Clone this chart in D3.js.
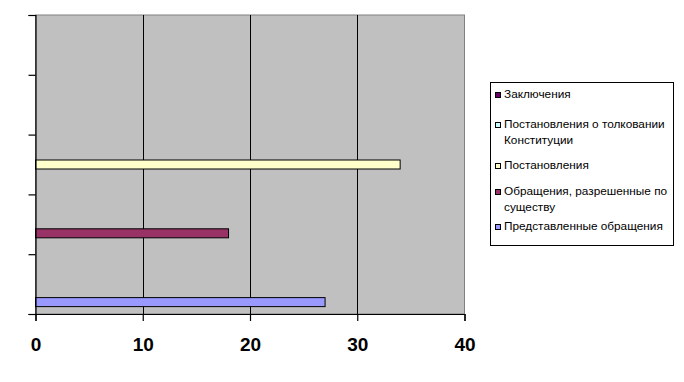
<!DOCTYPE html>
<html>
<head>
<meta charset="utf-8">
<script src="https://cdn.jsdelivr.net/npm/d3@7"></script>
<style>
  html, body { margin: 0; padding: 0; background: #fff; }
  svg { display: block; font-family: "Liberation Sans", Arial, sans-serif; }
</style>
</head>
<body>
<svg id="chart" width="684" height="382"></svg>
<script>
// Bar chart: one series per category, Excel-style clustered bars.

const categories = ["1", "2", "3", "4", "5"];
const seriesNames = [
  "Представленные обращения",
  "Обращения, разрешенные по существу",
  "Постановления",
  "Постановления о толковании Конституции",
  "Заключения"
];
// value of each series, sitting in the category with the same index
const seriesValues = [27, 18, 34, 0, 0];
const seriesColors = ["#9999ff", "#993366", "#ffffcc", "#ccffff", "#660066"];
const xTicks = [0, 10, 20, 30, 40];

// legend text, top to bottom, wrapped as in the original
const legendLines = [
  ["Заключения"],
  ["Постановления о толковании", "Конституции"],
  ["Постановления"],
  ["Обращения, разрешенные по", "существу"],
  ["Представленные обращения"]
];

const plot = { left: 35.5, right: 464.5, top: 15, bottom: 314 };

const svg = d3.select("#chart");

const x = d3.scaleLinear().domain([0, 40]).range([plot.left, plot.right]);
const y = d3.scaleBand().domain(categories).range([plot.bottom, plot.top]).padding(0);
const inner = d3.scaleBand().domain(d3.range(seriesNames.length))
  .range([y.bandwidth(), 0]).paddingInner(0).paddingOuter(0.82);

// plot background
svg.append("rect")
  .attr("x", plot.left).attr("y", plot.top)
  .attr("width", plot.right - plot.left).attr("height", plot.bottom - plot.top)
  .attr("fill", "#c0c0c0").attr("stroke", "#808080").attr("stroke-width", 1);

// vertical gridlines
svg.append("g")
  .selectAll("line")
  .data(xTicks.filter(d => d > 0 && d < 40))
  .enter().append("line")
  .attr("x1", d => Math.round(x(d)) + 0.5).attr("x2", d => Math.round(x(d)) + 0.5)
  .attr("y1", plot.top).attr("y2", plot.bottom)
  .attr("stroke", "#000").attr("stroke-width", 1);

// bars
svg.append("g")
  .selectAll("rect")
  .data(seriesValues.map((v, i) => ({ v, i })).filter(d => d.v > 0))
  .enter().append("rect")
  .attr("x", x(0))
  .attr("y", d => y(categories[d.i]) + inner(d.i))
  .attr("width", d => x(d.v) - x(0))
  .attr("height", inner.bandwidth())
  .attr("fill", d => seriesColors[d.i])
  .attr("stroke", "#000").attr("stroke-width", 1);

// y axis (no labels, ticks at category boundaries)
const yEdges = d3.scaleLinear().domain([0, categories.length]).range([plot.bottom, plot.top]);
svg.append("g")
  .attr("transform", `translate(${plot.left},0)`)
  .call(d3.axisLeft(yEdges).ticks(categories.length).tickSize(7).tickFormat(""))
  .call(g => g.selectAll("path, line").attr("stroke", "#000").attr("stroke-width", 1.2));

// x axis
svg.append("g")
  .attr("transform", `translate(0,${plot.bottom})`)
  .call(d3.axisBottom(x).tickValues(xTicks).tickSize(7).tickSizeOuter(7).tickPadding(17))
  .call(g => g.selectAll("path, line").attr("stroke", "#000").attr("stroke-width", 1.2))
  .call(g => g.selectAll("text")
    .attr("fill", "#000")
    .style("font-family", "'Liberation Sans', Arial, sans-serif")
    .style("font-size", "19px").style("font-weight", "bold"));

// legend
const legend = svg.append("g");
legend.append("rect")
  .attr("x", 490.5).attr("y", 82.5).attr("width", 183).attr("height", 163)
  .attr("fill", "#fff").attr("stroke", "#000").attr("stroke-width", 1);

const legendBaselines = [98, 128, 169, 195, 230];
const legendColors = seriesColors.slice().reverse();
legendLines.forEach((lines, k) => {
  const base = legendBaselines[k];
  legend.append("rect")
    .attr("x", 495.5).attr("y", base - 5.5).attr("width", 5).attr("height", 5)
    .attr("fill", legendColors[k]).attr("stroke", "#000").attr("stroke-width", 1);
  lines.forEach((t, j) => {
    legend.append("text")
      .attr("x", 504).attr("y", base + j * 15.5)
      .attr("font-size", 11.8).attr("fill", "#000")
      .text(t);
  });
});
</script>
</body>
</html>
